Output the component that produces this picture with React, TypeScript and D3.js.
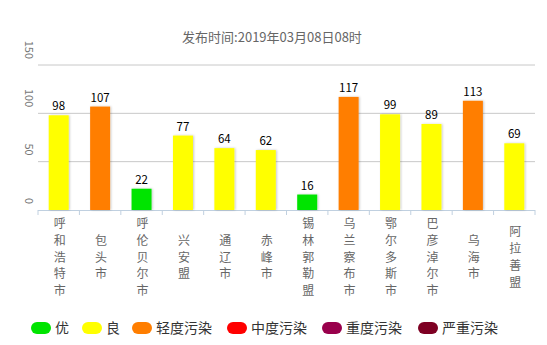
import React from "react";
import * as d3 from "d3";

const categories = ["呼和浩特市", "包头市", "呼伦贝尔市", "兴安盟", "通辽市", "赤峰市", "锡林郭勒盟", "乌兰察布市", "鄂尔多斯市", "巴彦淖尔市", "乌海市", "阿拉善盟"];
const values = [98, 107, 22, 77, 64, 62, 16, 117, 99, 89, 113, 69];
const yTicks = [0, 50, 100, 150];
const levelNames = ["优", "良", "轻度污染", "中度污染", "重度污染", "严重污染"];
const levelColors = ["#00e400", "#ffff00", "#ff7e00", "#ff0000", "#99004c", "#7e0023"];
const levelBounds = [50, 100, 150, 200, 300, Infinity];
const title = "发布时间:2019年03月08日08时";

const W = 547, H = 345;
const FONT = "'Noto Sans CJK SC', 'Noto Sans', sans-serif";

function colorFor(v: number) {
  const i = levelBounds.findIndex((b) => v <= b);
  return levelColors[i];
}

export default function App() {
  const x = d3.scaleBand<string>().domain(categories).range([38, 535]);
  const y = d3.scaleLinear().domain([0, 150]).range([210, 65]);
  const bw = 20;
  const legendX = [31, 82, 132, 227, 322, 418];
  const maxLines = d3.max(categories, (c) => c.length) as number;
  const lh = 16.8;
  return (
    <svg width={W} height={H} style={{ position: "absolute", left: 0, top: 0 }}>
      <defs>
        <filter id="sh" x="-30%" y="-10%" width="160%" height="120%">
          <feDropShadow dx="1" dy="0" stdDeviation="1.2" floodColor="#000" floodOpacity="0.22" />
        </filter>
      </defs>
      <text x={272} y={42} textAnchor="middle" fontFamily={FONT} fontSize={13} fill="#666">{title}</text>
      {yTicks.filter((t) => t > 0).map((t) => (
        <line key={t} x1={38} x2={535} y1={y(t)} y2={y(t)} stroke="#c8c8c8" strokeWidth={1} />
      ))}
      {yTicks.map((t) => (
        <text key={"l" + t} transform={`translate(29.5,${y(t) - 6}) rotate(90)`} textAnchor="end" dominantBaseline="central" fontFamily={FONT} fontSize={11} fill="#777">{t}</text>
      ))}
      <line x1={38} x2={535} y1={y(0) + 0.5} y2={y(0) + 0.5} stroke="#c0d0e0" strokeWidth={1} />
      {categories.map((c, i) => (
        <line key={"t" + i} x1={x(c) as number} x2={x(c) as number} y1={y(0)} y2={y(0) + 5} stroke="#c0d0e0" strokeWidth={1} />
      ))}
      <line x1={535} x2={535} y1={y(0)} y2={y(0) + 5} stroke="#c0d0e0" />
      {categories.map((c, i) => {
        const cx = (x(c) as number) + x.bandwidth() / 2;
        const v = values[i];
        const off = ((maxLines - c.length) / 2) * lh;
        return (
          <g key={c}>
            <rect x={cx - bw / 2} y={y(v)} width={bw} height={y(0) - y(v)} fill={colorFor(v)} filter="url(#sh)" />
            <text x={cx} y={y(v) - 5} textAnchor="middle" fontFamily={FONT} fontSize={11.5} fill="#000">{v}</text>
            {c.split("").map((ch, j) => (
              <text key={j} x={cx + 1} y={228 + off + j * lh} textAnchor="middle" fontFamily={FONT} fontSize={12} fill="#666">{ch}</text>
            ))}
          </g>
        );
      })}
      {levelNames.map((n, i) => (
        <g key={n}>
          <rect x={legendX[i]} y={322} width={20} height={12} rx={6} fill={levelColors[i]} />
          <text x={legendX[i] + 24} y={333} fontFamily={FONT} fontSize={14} fill="#333">{n}</text>
        </g>
      ))}
    </svg>
  );
}
